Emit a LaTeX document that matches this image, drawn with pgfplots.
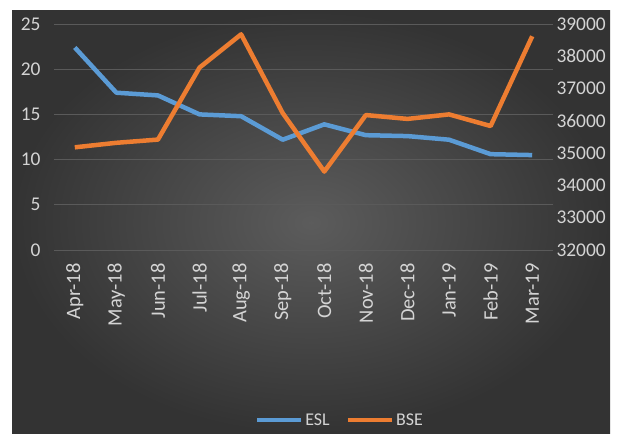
\documentclass[border=0pt]{standalone}
\usepackage{pgfplots}
\pgfplotsset{compat=1.18}
\usepackage{fontspec}
\setmainfont{Carlito}
\definecolor{eslblue}{HTML}{5B9BD5}
\definecolor{bseorange}{HTML}{ED7D31}
\definecolor{lblgray}{HTML}{D4D4D4}
\definecolor{gridgray}{HTML}{5A5A5A}

\pgfplotsset{
  common/.style={
    at={(54bp,194bp)}, anchor=south west,
    scale only axis, width=499bp, height=226bp,
    xmin=-0.5, xmax=11.5,
    axis line style={draw=none},
    tick style={draw=none},
    major tick length=0pt,
    ticklabel style={font=\fontsize{19.5}{19.5}\selectfont, text=lblgray},
    /pgf/number format/assume math mode=true,
    scaled ticks=false,
  }
}

\begin{document}
\begin{tikzpicture}
\useasboundingbox (0bp,0bp) rectangle (619bp,444bp);
\fill[white] (0bp,0bp) rectangle (619bp,444bp);
\shade[inner color=black!64, outer color=black!80] (12bp,10bp) rectangle (610bp,433bp);

\begin{axis}[common,
  ymin=0, ymax=25, ytick={0,5,10,15,20,25},
  xtick={0,...,11},
  xticklabels={Apr-18,May-18,Jun-18,Jul-18,Aug-18,Sep-18,Oct-18,Nov-18,Dec-18,Jan-19,Feb-19,Mar-19},
  xticklabel style={rotate=90, anchor=east, font=\fontsize{20.5}{20.5}\selectfont},
  xticklabel shift=10bp,
  ymajorgrids, grid style={gridgray, line width=0.8bp},
  yticklabel style={anchor=east},
  yticklabel shift=10bp,
  legend style={at={(0.573,-0.752)}, anchor=center, legend columns=2,
    draw=none, fill=none, text=lblgray, font=\fontsize{18}{18}\selectfont,
    /tikz/every even column/.append style={column sep=14bp}},
  legend image code/.code={\draw[#1] (0bp,0bp) -- (44bp,0bp);},
]
\addplot[eslblue, line width=4.5bp, line join=round] coordinates {
 (0,22.4) (1,17.4) (2,17.1) (3,15.0) (4,14.8) (5,12.2)
 (6,13.9) (7,12.7) (8,12.6) (9,12.2) (10,10.6) (11,10.5)
};
\addlegendentry{ESL}
\addlegendimage{bseorange, line width=4.5bp}
\addlegendentry{BSE}
\end{axis}

\begin{axis}[common,
  ymin=32000, ymax=39000, ytick={32000,33000,...,39000},
  axis x line=none, axis y line*=right,
  yticklabel style={anchor=west, /pgf/number format/1000 sep={}},
  yticklabel shift=0bp,
]
\addplot[bseorange, line width=4.5bp, line join=round] coordinates {
 (0,35180) (1,35320) (2,35420) (3,37650) (4,38680) (5,36240)
 (6,34430) (7,36180) (8,36060) (9,36200) (10,35840) (11,38620)
};
\end{axis}
\end{tikzpicture}
\end{document}
